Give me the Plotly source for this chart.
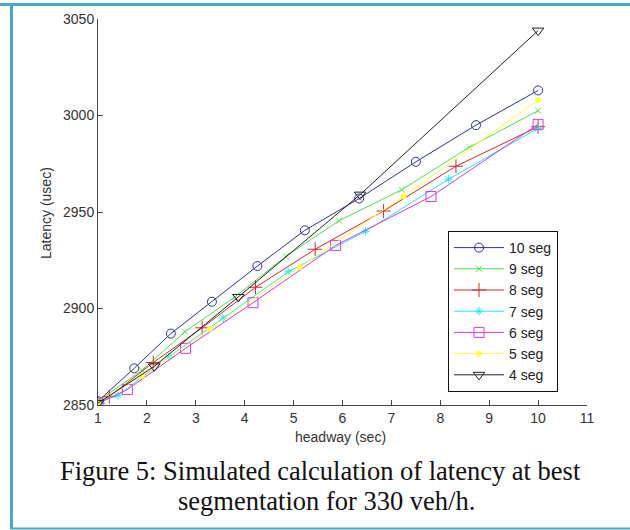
import plotly.graph_objects as go

# ---------------- data ----------------
x10 = [1, 1.74, 2.49, 3.33, 4.26, 5.23, 6.34, 7.50, 8.73, 10]
y10 = [2852, 2869, 2887, 2903.5, 2922, 2940.5, 2957, 2976, 2995, 3013]

x9 = [1, 1.9, 2.78, 3.8, 4.84, 5.93, 7.21, 8.59, 10]
y9 = [2852, 2868, 2888, 2906, 2927, 2945.5, 2961.5, 2983.5, 3002.5]

x8 = [1, 1.23, 2.13, 3.13, 4.22, 5.44, 6.84, 8.32, 10]
y8 = [2851, 2854.3, 2872, 2890, 2911, 2930.7, 2950.5, 2973.7, 2994.2]

x7 = [1, 1.41, 2.45, 3.56, 4.89, 6.47, 8.17, 10]
y7 = [2851, 2855, 2875, 2895, 2919, 2940, 2967, 2993.4]

x6 = [1, 1.6, 2.79, 4.17, 5.86, 7.81, 10]
y6 = [2851, 2858, 2879.4, 2903, 2932.7, 2958, 2995.4]

x5 = [1, 1.9, 3.29, 5.13, 7.24, 10]
y5 = [2851, 2865, 2889.5, 2921.5, 2958, 3008]

x4 = [1, 2.15, 3.87, 6.36, 10]
y4 = [2851, 2870, 2906, 2959, 3044]

series_names = ["10 seg", "9 seg", "8 seg", "7 seg", "6 seg", "5 seg", "4 seg"]
x_ticks = [1, 2, 3, 4, 5, 6, 7, 8, 9, 10, 11]
y_ticks = [2850, 2900, 2950, 3000, 3050]

x_title = "headway (sec)"
y_title = "Latency (usec)"
caption1 = "Figure 5: Simulated calculation of latency at best"
caption2 = "segmentation for 330 veh/h."

# ---------------- styles ----------------
colors = ["#30309C", "#4FE04F", "#D42828", "#2EE2F0", "#D43CD4", "#FFFF40", "#222222"]
symbols = ["circle-open", "x-thin-open", "cross-thin-open", "asterisk-open",
           "square-open", "circle", "triangle-down-open"]
msizes = [9, 6, 10, 7, 10, 5, 10]

W, H = 630, 530
L, R, T, B = 98, 43, 19, 125
pw, ph = W - L - R, H - T - B


def px2x(px):
    return (px - L) / pw


def py2y(py):
    return (H - B - py) / ph


xs = [x10, x9, x8, x7, x6, x5, x4]
ys = [y10, y9, y8, y7, y6, y5, y4]

fig = go.Figure()
for name, xv, yv, c, s, ms in zip(series_names, xs, ys, colors, symbols, msizes):
    fig.add_trace(go.Scatter(
        x=xv, y=yv, name=name, mode="lines+markers",
        line=dict(color=c, width=1),
        marker=dict(symbol=s, size=ms, color=c, line=dict(color=c, width=1)),
    ))

axis_font = dict(family="Liberation Sans, Arial, sans-serif", size=14, color="#333333")

fig.update_layout(
    width=W, height=H,
    margin=dict(l=L, r=R, t=T, b=B),
    paper_bgcolor="white", plot_bgcolor="white",
    showlegend=True,
    legend=dict(
        x=px2x(448), y=py2y(231), xanchor="left", yanchor="top",
        bordercolor="#111111", borderwidth=1, bgcolor="white",
        font=dict(family="Liberation Sans, Arial, sans-serif", size=14, color="#222222"),
        tracegroupgap=0, itemwidth=50,
    ),
    xaxis=dict(
        range=[1, 11], tickvals=x_ticks, ticktext=[str(v) for v in x_ticks],
        showgrid=False, zeroline=False, showline=True, linecolor="#444444", linewidth=1,
        ticks="inside", ticklen=5, tickcolor="#444444", tickfont=axis_font,
        mirror=False,
    ),
    yaxis=dict(
        range=[2850, 3050], tickvals=y_ticks, ticktext=[str(v) for v in y_ticks],
        showgrid=False, zeroline=False, showline=True, linecolor="#444444", linewidth=1,
        ticks="inside", ticklen=5, tickcolor="#444444", tickfont=axis_font,
        mirror=False,
    ),
)

# axis titles
fig.add_annotation(xref="paper", yref="paper", x=px2x(340), y=py2y(437),
                   text=x_title, showarrow=False, xanchor="center", yanchor="middle",
                   font=dict(family="Liberation Sans, Arial, sans-serif", size=14, color="#333333"))
fig.add_annotation(xref="paper", yref="paper", x=px2x(46), y=py2y(213),
                   text=y_title, showarrow=False, xanchor="center", yanchor="middle",
                   textangle=-90,
                   font=dict(family="Liberation Sans, Arial, sans-serif", size=14, color="#333333"))

# caption
cap_font = dict(family="Liberation Serif, Times New Roman, serif", size=26.5, color="#111111")
fig.add_annotation(xref="paper", yref="paper", x=px2x(320), y=py2y(471),
                   text=caption1, showarrow=False, xanchor="center", yanchor="middle",
                   font=cap_font)
fig.add_annotation(xref="paper", yref="paper", x=px2x(326), y=py2y(501),
                   text=caption2, showarrow=False, xanchor="center", yanchor="middle",
                   font=cap_font)

# frame around the figure (decoration)
border = "#4AAAC6"
fig.add_shape(type="line", xref="paper", yref="paper",
              x0=px2x(0), x1=px2x(W), y0=py2y(4.5), y1=py2y(4.5),
              line=dict(color=border, width=3))
fig.add_shape(type="line", xref="paper", yref="paper",
              x0=px2x(11.5), x1=px2x(11.5), y0=py2y(3), y1=py2y(529),
              line=dict(color=border, width=3))
fig.add_shape(type="line", xref="paper", yref="paper",
              x0=px2x(10), x1=px2x(W), y0=py2y(528.5), y1=py2y(528.5),
              line=dict(color=border, width=2))

fig.write_html("out.html")
